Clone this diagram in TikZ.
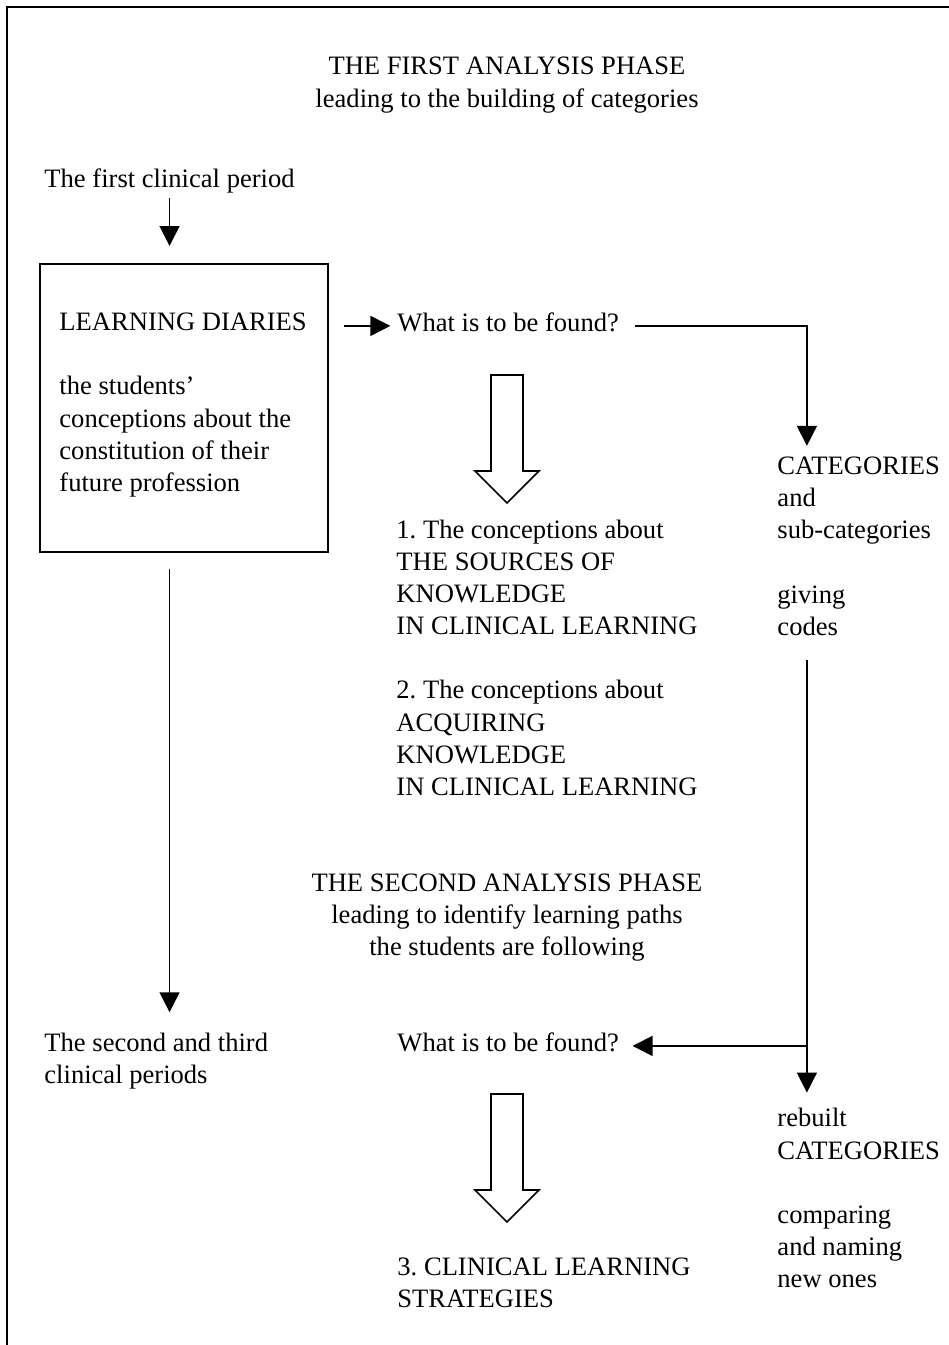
\documentclass[tikz,border=0pt]{standalone}
\usepackage{fontspec}
\setmainfont{Liberation Serif}
\frenchspacing
\usetikzlibrary{arrows.meta}
\tikzset{
  txt/.style={inner sep=0pt, font=\fontsize{12pt}{14.45pt}\selectfont, align=left, anchor=base west},
  ctxt/.style={txt, align=center, anchor=base},
  arr/.style={line width=0.7pt, -{Triangle[length=9pt,width=9pt]}},
  hollow/.pic={\draw[line width=0.75pt] (-16,0) -- (-16,96) -- (-32,96) -- (0,128) -- (32,96) -- (16,96) -- (16,0) -- cycle;}
}
\begin{document}
\begin{tikzpicture}[x=0.4515pt, y=-0.4515pt]
\useasboundingbox (0,0) rectangle (949,1345);
\draw[line width=0.9pt] (7,1345) -- (7,7) -- (949,7);

\node[ctxt] (phase1) at (507,107) {THE FIRST ANALYSIS PHASE\\leading to the building of categories};
\node[txt] (period1) at (44,187) {The first clinical period};
\node[draw, line width=0.9pt, anchor=north west, minimum width=130pt, minimum height=130pt] (diaries) at (39,263) {};
\node[txt] (diarytext) at (59,491) {LEARNING DIARIES\\[14.45pt]the students'\\conceptions about the\\constitution of their\\future profession};
\node[txt] (find1) at (397,331) {What is to be found?};
\node[txt] (cats) at (777,635) {CATEGORIES\\and\\sub-categories\\[14.45pt]giving\\codes};
\node[txt] (concepts) at (396,795) {1. The conceptions about\\THE SOURCES OF\\KNOWLEDGE\\IN CLINICAL LEARNING\\[14.45pt]2. The conceptions about\\ACQUIRING\\KNOWLEDGE\\IN CLINICAL LEARNING};
\node[ctxt] (phase2) at (507,955) {THE SECOND ANALYSIS PHASE\\leading to identify learning paths\\the students are following};
\node[txt] (period2) at (44,1083) {The second and third\\clinical periods};
\node[txt] (find2) at (397,1051) {What is to be found?};
\node[txt] (rebuilt) at (777,1287) {rebuilt\\CATEGORIES\\[14.45pt]comparing\\and naming\\new ones};
\node[txt] (strategies) at (397,1307) {3. CLINICAL LEARNING\\STRATEGIES};

\pic at (507,375) {hollow};
\pic at (507,1094) {hollow};

\draw[arr] ([yshift=-2.4pt]period1.south) -- ([yshift=7.7pt]period1.south |- diaries.north);
\draw[arr] ([yshift=-7.2pt]period1.south |- diaries.south) -- ([yshift=9pt]period1.south |- period2.north);
\draw[arr] ([xshift=7pt]diaries.east |- find1.mid west) -- ([xshift=-3pt]find1.mid west);
\draw[arr] ([xshift=7pt]find1.mid east) -| ([xshift=13.5pt,yshift=5pt]cats.north west);
\draw[arr] ([xshift=13.5pt,yshift=-11pt]cats.south west) -- ([xshift=13.5pt,yshift=7pt]rebuilt.north west);
\draw[arr] ([xshift=13.5pt]cats.south west |- find2.mid east) -- ([xshift=6pt]find2.mid east);
\end{tikzpicture}
\end{document}
